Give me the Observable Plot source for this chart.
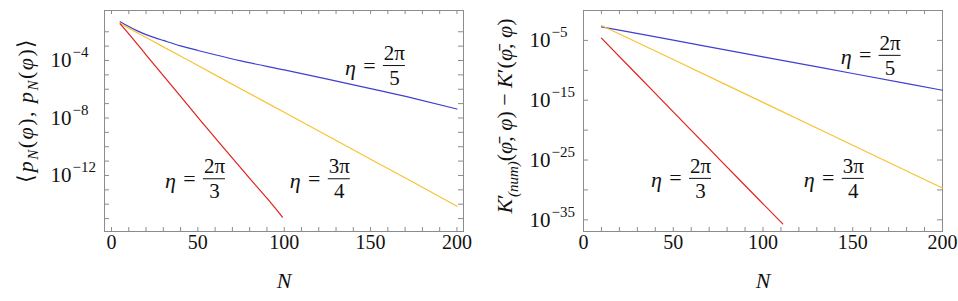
<!DOCTYPE html>
<html><head><meta charset="utf-8">
<script src="https://cdn.jsdelivr.net/npm/d3@7"></script>
<script src="https://cdn.jsdelivr.net/npm/@observablehq/plot@0.6"></script>
<style>
body{margin:0;background:#fff;}
#wrap{display:flex;width:958px;height:301px;}
</style></head><body>
<div id="wrap"></div>
<script>
// ---------- Left panel data: <p_N(φ), p_N(φ)> ----------
const leftBlueN   = [5, 10, 15, 20, 25, 30, 40, 50, 60, 75, 100, 125, 150, 175, 200];
const leftBlueV   = [5.0e-2, 2.3e-2, 1.15e-2, 6.3e-3, 3.9e-3, 2.5e-3, 1.05e-3, 5.0e-4, 2.5e-4, 9.3e-5, 2.2e-5, 5.0e-6, 1.1e-6, 2.3e-7, 4.2e-8];
const leftGoldN   = [5, 10, 20, 30, 50, 75, 100, 125, 150, 175, 200];
const leftGoldV   = [3.8e-2, 1.8e-2, 4.0e-3, 8.9e-4, 4.5e-5, 1.05e-6, 2.5e-8, 5.8e-10, 1.35e-11, 3.2e-13, 7.1e-15];
const leftRedN    = [5, 10, 20, 30, 40, 50, 60, 70, 80, 90, 99];
const leftRedV    = [3.5e-2, 7.1e-3, 2.5e-4, 8.9e-6, 3.2e-7, 1.1e-8, 4.2e-10, 1.6e-11, 6.3e-13, 2.6e-14, 1.26e-15];

// ---------- Right panel data: K'_(num) - K' ----------
const rightBlueN  = [10, 50, 100, 150, 200];
const rightBlueV  = [1.86e-3, 1.1e-5, 1.8e-8, 2.9e-11, 4.7e-14];
const rightGoldN  = [10, 50, 100, 150, 200];
const rightGoldV  = [3.2e-3, 6.3e-9, 4.3e-16, 3.0e-23, 2.1e-30];
const rightRedN   = [10, 30, 50, 70, 90, 111];
const rightRedV   = [2.4e-5, 1.66e-11, 1.15e-17, 7.9e-24, 5.5e-30, 2.1e-36];

// ---------- Ticks ----------
const xTicksMinor   = d3.range(0, 201, 10);
const xTickLabels   = [0, 50, 100, 150, 200];
const leftYTickExp  = d3.range(-2, -16, -1);
const leftYLabelExp = [-4, -8, -12];
const rightYTickExp = [-5, -10, -15, -20, -25, -30, -35];
const rightYLabelExp= [-5, -15, -25, -35];

// ---------- Annotations (η = num/den), positioned at the fraction bar ----------
const leftAnnN   = [163.8, 59.6, 131.9];
const leftAnnV   = [10 ** -4.35, 10 ** -12.23, 10 ** -12.23];
const rightAnnN  = [170.8, 65.2, 150.3];
const rightAnnV  = [10 ** -7.5, 10 ** -28.07, 10 ** -28.07];
const annNum     = ["2π", "2π", "3π"];
const annDen     = ["5", "3", "4"];

const colors = {blue: "#3f3fd0", gold: "#f7c234", red: "#e0201c"};
const ink = "#8c8c8c";
const FONT = "Liberation Serif";
const W = 479, H = 301, ML = 104, MR = 16, MT = 10, MB = 70;
const FW = W - ML - MR, FH = H - MT - MB;

function panel({xDomain, yDomain, series, yTickExp, yLabelExp, annN, annV}) {
  const pxPerUnit = FW / (xDomain[1] - xDomain[0]);
  const half = 11 / pxPerUnit;
  const ann = annN.map((x, i) => ({x, y: annV[i], num: annNum[i], den: annDen[i]}));
  const T = {fill: "#111", fontFamily: FONT};
  const marks = [
    Plot.frame({stroke: ink}),
    Plot.tickX(xTicksMinor, {x: d => d, stroke: ink, insetTop: FH - 4}),
    Plot.tickX(xTicksMinor, {x: d => d, stroke: ink, insetBottom: FH - 4}),
    Plot.tickY(yTickExp, {y: d => 10 ** d, stroke: ink, insetRight: FW - 5}),
    Plot.tickY(yTickExp, {y: d => 10 ** d, stroke: ink, insetLeft: FW - 5}),
    ...series.map(s => Plot.line(s.N.map((n, i) => ({n, v: s.V[i]})), {x: "n", y: "v", stroke: s.color, strokeWidth: 1.2, curve: "monotone-x"})),
    Plot.text(xTickLabels, {...T, x: d => d, text: d => String(d), frameAnchor: "bottom", dy: 17, fontSize: 20}),
    Plot.text(yLabelExp, {...T, y: d => 10 ** d, text: () => "10", frameAnchor: "left", dx: -54, textAnchor: "start", fontSize: 21}),
    Plot.text(yLabelExp, {...T, y: d => 10 ** d, text: d => "−" + Math.abs(d), frameAnchor: "left", dx: -32, dy: -8, textAnchor: "start", fontSize: 15}),
    Plot.text(["N"], {...T, frameAnchor: "bottom", dy: 56, text: d => d, fontStyle: "italic", fontSize: 22}),
    Plot.text(ann, {...T, x: "x", y: "y", text: () => "η", dx: -44, dy: 2, fontStyle: "italic", fontSize: 22}),
    Plot.text(ann, {...T, x: "x", y: "y", text: () => "=", dx: -25, fontSize: 22}),
    Plot.text(ann, {...T, x: "x", y: "y", text: "num", dy: -12.5, fontSize: 21}),
    Plot.text(ann, {...T, x: "x", y: "y", text: "den", dy: 13, fontSize: 21}),
    Plot.ruleY(ann, {y: "y", x1: d => d.x - half, x2: d => d.x + half, stroke: "#111", strokeWidth: 1})
  ];
  return Plot.plot({
    width: W, height: H, marginLeft: ML, marginRight: MR, marginTop: MT, marginBottom: MB,
    style: {fontFamily: FONT, fontSize: "20px"},
    x: {domain: xDomain, axis: null},
    y: {type: "log", domain: yDomain, axis: null},
    marks
  });
}

function yLabel(svg, x, y, spacing, parts) {
  const t = d3.select(svg).append("text")
    .attr("transform", `translate(${x},${y}) rotate(-90)`)
    .attr("text-anchor", "middle").attr("font-size", 22).attr("fill", "#111")
    .attr("font-family", FONT).attr("letter-spacing", spacing);
  for (const p of parts) {
    const s = t.append("tspan").text(p.t);
    if (p.i) s.attr("font-style", "italic");
    if (p.s) s.attr("font-size", p.s);
    if (p.dy) s.attr("dy", p.dy);
    if (p.dx) s.attr("dx", p.dx);
  }
}

const left = panel({
  xDomain: [-4.05, 203.8], yDomain: [10 ** -15.9, 10 ** -0.52],
  series: [
    {N: leftBlueN, V: leftBlueV, color: colors.blue},
    {N: leftGoldN, V: leftGoldV, color: colors.gold},
    {N: leftRedN, V: leftRedV, color: colors.red}
  ],
  yTickExp: leftYTickExp, yLabelExp: leftYLabelExp, annN: leftAnnN, annV: leftAnnV
});
const right = panel({
  xDomain: [0, 200], yDomain: [10 ** -36.95, 1],
  series: [
    {N: rightBlueN, V: rightBlueV, color: colors.blue},
    {N: rightGoldN, V: rightGoldV, color: colors.gold},
    {N: rightRedN, V: rightRedV, color: colors.red}
  ],
  yTickExp: rightYTickExp, yLabelExp: rightYLabelExp, annN: rightAnnN, annV: rightAnnV
});

yLabel(left, 33, 110, 1.5, [
  {t: "⟨"}, {t: "p", i: 1}, {t: "N", i: 1, s: 15, dy: 5}, {t: "(", dy: -5}, {t: "φ", i: 1}, {t: "), "},
  {t: "p", i: 1}, {t: "N", i: 1, s: 15, dy: 5}, {t: "(", dy: -5}, {t: "φ", i: 1}, {t: ")⟩"}
]);
yLabel(right, 33, 116, 0, [
  {t: "K", i: 1}, {t: "′"}, {t: "(num)", i: 1, s: 15, dy: 6, dx: -3}, {t: "(", dy: -6}, {t: "φ̄", i: 1}, {t: ", "}, {t: "φ", i: 1},
  {t: ") − "}, {t: "K", i: 1}, {t: "′"}, {t: "("}, {t: "φ̄", i: 1}, {t: ", "}, {t: "φ", i: 1}, {t: ")"}
]);

document.getElementById("wrap").append(left, right);
</script>
</body></html>
